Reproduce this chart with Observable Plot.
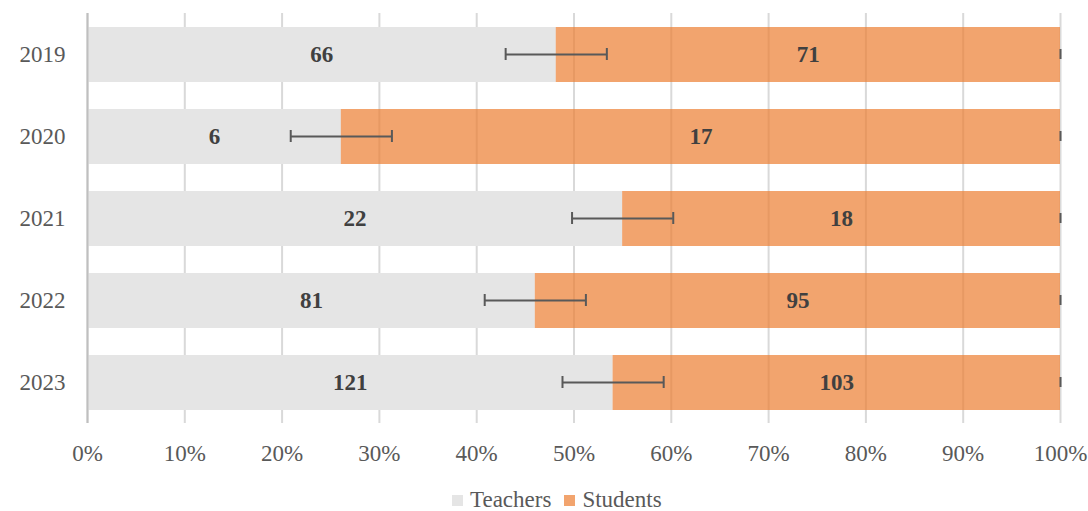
<!DOCTYPE html>
<html>
<head>
<meta charset="utf-8">
<script src="https://cdn.jsdelivr.net/npm/d3@7"></script>
<script src="https://cdn.jsdelivr.net/npm/@observablehq/plot@0.6"></script>
<style>
  html, body { margin: 0; padding: 0; background: #fff; overflow: hidden; }
  #wrap { position: relative; width: 1088px; height: 511px; font-family: "Liberation Serif", "Times New Roman", serif; }
  #legend { position: absolute; left: 452px; top: 490px; display: flex; align-items: center; font-size: 23px; line-height: 20px; height: 20px; color: #595959; white-space: nowrap; }
  .sw { display: inline-block; width: 11px; height: 11px; margin-right: 7px; }
  .item { display: flex; align-items: center; margin-right: 13px; }
</style>
</head>
<body>
<div id="wrap">
  <div id="chart"></div>
  <div id="legend"></div>
</div>
<script>
const years = ["2019", "2020", "2021", "2022", "2023"];
const teachers = [66, 6, 22, 81, 121];
const students = [71, 17, 18, 95, 103];
const errorHalf = [0.052, 0.052, 0.052, 0.052, 0.052];
const groups = ["Teachers", "Students"];
const colors = ["#e5e5e5", "#ED7D31"];
const opacities = [1, 0.7];
const xTicks = [0, 0.1, 0.2, 0.3, 0.4, 0.5, 0.6, 0.7, 0.8, 0.9, 1];

const rows = [];
years.forEach((y, i) => {
  rows.push({year: y, group: "Teachers", value: teachers[i], op: opacities[0]});
  rows.push({year: y, group: "Students", value: students[i], op: opacities[1]});
});
const errs = years.map((y, i) => {
  const b = teachers[i] / (teachers[i] + students[i]);
  return {year: y, lo: b - errorHalf[i], hi: b + errorHalf[i]};
});

const stackOpts = {x: "value", y: "year", z: "group", order: groups, offset: "normalize"};
const fmt = d => Math.round(d * 100) + "%";

const chart = Plot.plot({
  width: 1088,
  height: 470,
  marginLeft: 87,
  marginRight: 28,
  marginTop: 13,
  marginBottom: 47,
  style: {fontFamily: "'Liberation Serif', 'Times New Roman', serif", fontSize: "23px", color: "#595959", background: "#fff"},
  x: {domain: [0, 1], ticks: xTicks, tickFormat: fmt, label: null},
  y: {domain: years, padding: 0, label: null},
  color: {domain: groups, range: colors},
  opacity: {type: "identity"},
  marks: [
    Plot.gridX(xTicks, {stroke: "#d9d9d9", strokeOpacity: 1, strokeWidth: 2}),
    Plot.barX(rows, Plot.stackX({...stackOpts, fill: "group", fillOpacity: "op", insetTop: 14, insetBottom: 13})),
    Plot.ruleX([0], {stroke: "#bfbfbf", strokeWidth: 2}),
    Plot.text(rows, Plot.stackX({...stackOpts, text: "value", fill: "#404040", fontWeight: "bold", fontSize: 23})),
    Plot.ruleY(errs, {y: "year", x1: "lo", x2: "hi", stroke: "#595959", strokeWidth: 2}),
    Plot.tickX(errs, {y: "year", x: "lo", stroke: "#595959", strokeWidth: 2, insetTop: 35, insetBottom: 35}),
    Plot.tickX(errs, {y: "year", x: "hi", stroke: "#595959", strokeWidth: 2, insetTop: 35, insetBottom: 35}),
    Plot.tickX(years, {y: d => d, x: () => 1, stroke: "#595959", strokeWidth: 2, insetTop: 36, insetBottom: 36}),
    Plot.axisX({ticks: xTicks, tickFormat: fmt, tickSize: 0, tickPadding: 21, label: null}),
    Plot.axisY({tickSize: 0, tickPadding: 22, label: null})
  ]
});
document.getElementById("chart").appendChild(chart);

const legend = document.getElementById("legend");
groups.forEach((g, i) => {
  const item = document.createElement("span");
  item.className = "item";
  const sw = document.createElement("span");
  sw.className = "sw";
  sw.style.background = colors[i];
  sw.style.opacity = opacities[i];
  item.appendChild(sw);
  item.appendChild(document.createTextNode(g));
  legend.appendChild(item);
});
</script>
</body>
</html>
